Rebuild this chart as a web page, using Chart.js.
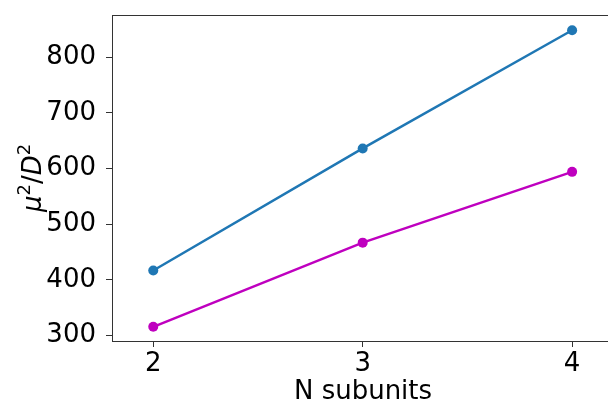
<!DOCTYPE html>
<html>
<head>
<meta charset="utf-8">
<script src="https://cdn.jsdelivr.net/npm/chart.js@4"></script>
<style>
    html, body { margin: 0; padding: 0; background: #fff; overflow: hidden; }
    #wrap { width: 608px; height: 409px; overflow: hidden; }
</style>
</head>
<body>
<div id="wrap"><canvas id="chart" width="620" height="409"></canvas></div>
<script>
// Chart data
const subunits = [2, 3, 4];
const seriesBlue = [417, 636, 848];
const seriesMagenta = [316, 467, 594];
const xTicks = [2, 3, 4];
const yTicks = [300, 400, 500, 600, 700, 800];

const FONT = 'DejaVu Sans';
const AXIS_COLOR = '#333333';

// Draws the frame round the plot area (matplotlib spines)
const framePlugin = {
    id: 'frame',
    afterDraw(chart) {
        const { ctx, chartArea: a } = chart;
        ctx.save();
        ctx.strokeStyle = AXIS_COLOR;
        ctx.lineWidth = 1;
        ctx.strokeRect(Math.round(a.left) + 0.5, Math.round(a.top) + 0.5,
            Math.round(a.right - a.left), Math.round(a.bottom - a.top));
        ctx.restore();
    }
};

// y title with real superscripts, like matplotlib mathtext
const yTitlePlugin = {
    id: 'yTitle',
    afterDraw(chart) {
        const { ctx, chartArea: a } = chart;
        const parts = [
            { t: 'μ', font: `italic 26px "${FONT}"`, dy: 0 },
            { t: '2', font: `18px "${FONT}"`, dy: -11 },
            { t: '/', font: `26px "${FONT}"`, dy: 0 },
            { t: 'D', font: `italic 26px "${FONT}"`, dy: 0 },
            { t: '2', font: `18px "${FONT}"`, dy: -11 }
        ];
        ctx.save();
        let total = 0;
        parts.forEach(p => { ctx.font = p.font; p.w = ctx.measureText(p.t).width; total += p.w; });
        ctx.translate(41, (a.top + a.bottom) / 2);
        ctx.rotate(-Math.PI / 2);
        ctx.fillStyle = '#000';
        ctx.textBaseline = 'alphabetic';
        ctx.textAlign = 'left';
        let x = -total / 2;
        parts.forEach(p => {
            ctx.font = p.font;
            ctx.fillText(p.t, x, p.dy);
            x += p.w;
        });
        ctx.restore();
    }
};

new Chart(document.getElementById('chart'), {
    type: 'line',
    data: {
        datasets: [
            {
                data: subunits.map((x, i) => ({ x, y: seriesBlue[i] })),
                borderColor: '#1f77b4',
                backgroundColor: '#1f77b4',
                borderWidth: 2.5,
                pointRadius: 5,
                pointBorderWidth: 0
            },
            {
                data: subunits.map((x, i) => ({ x, y: seriesMagenta[i] })),
                borderColor: '#bf00bf',
                backgroundColor: '#bf00bf',
                borderWidth: 2.5,
                pointRadius: 5,
                pointBorderWidth: 0
            }
        ]
    },
    options: {
        responsive: false,
        animation: false,
        devicePixelRatio: 1,
        layout: { padding: { left: 0, top: 15, right: 6, bottom: 0 } },
        plugins: {
            legend: { display: false },
            tooltip: { enabled: false }
        },
        scales: {
            x: {
                type: 'linear',
                min: 1.803,
                max: 4.2,
                afterBuildTicks: s => { s.ticks = xTicks.map(v => ({ value: v })); },
                afterFit: s => {
                    s.height = 68;
                    s.paddingLeft = 0;
                    s.paddingRight = 0;
                },
                grid: {
                    drawOnChartArea: false,
                    drawTicks: true,
                    tickLength: 6,
                    color: AXIS_COLOR
                },
                border: { display: false },
                ticks: {
                    color: '#000',
                    padding: 2,
                    maxRotation: 0,
                    font: { family: FONT, size: 26 }
                },
                title: {
                    display: true,
                    text: 'N subunits',
                    color: '#000',
                    padding: { top: 0, bottom: 1 },
                    font: { family: FONT, size: 26 }
                }
            },
            y: {
                type: 'linear',
                min: 290.5,
                max: 875.4,
                afterBuildTicks: s => { s.ticks = yTicks.map(v => ({ value: v })); },
                afterFit: s => {
                    s.width = 112;
                    s.paddingTop = 0;
                    s.paddingBottom = 0;
                },
                grid: {
                    drawOnChartArea: false,
                    drawTicks: true,
                    tickLength: 6,
                    color: AXIS_COLOR
                },
                border: { display: false },
                ticks: {
                    color: '#000',
                    padding: 10,
                    font: { family: FONT, size: 26 }
                },
                title: { display: false }
            }
        }
    },
    plugins: [framePlugin, yTitlePlugin]
});
</script>
</body>
</html>
